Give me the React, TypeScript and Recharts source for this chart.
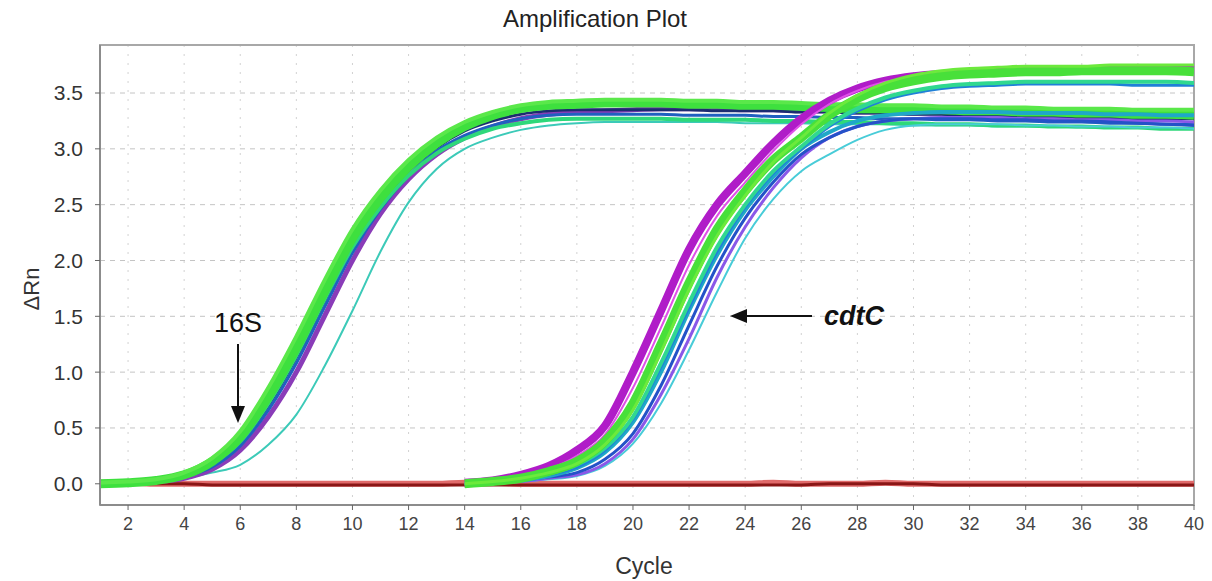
import React from "react";
import {
    LineChart,
    Line,
    XAxis,
    YAxis,
    CartesianGrid,
    ReferenceArea,
} from "recharts";

// cycles on the x axis
const cycles = [1, 2, 3, 4, 5, 6, 7, 8, 9, 10, 11, 12, 13, 14, 15, 16, 17, 18, 19, 20,
    21, 22, 23, 24, 25, 26, 27, 28, 29, 30, 31, 32, 33, 34, 35, 36, 37, 38, 39, 40];
const xTicks = [2, 4, 6, 8, 10, 12, 14, 16, 18, 20, 22, 24, 26, 28, 30, 32, 34, 36, 38, 40];
const yTicks = [0, 0.5, 1, 1.5, 2, 2.5, 3, 3.5];

// no template control (flat baseline)
const ntc = [0, 0, 0, 0, -0.01, -0.01, -0.01, -0.01, -0.01, -0.01, -0.01, -0.01, -0.01, -0.01, -0.01, -0.01, -0.01, -0.01, -0.01, -0.01,
    -0.01, -0.01, -0.01, -0.01, -0.01, -0.01, 0, 0, 0, 0, -0.01, -0.01, -0.01, -0.01, -0.01, -0.01, -0.01, -0.01, -0.01, -0.01];
const ntc2 = [0.01, 0.01, 0, 0, 0, 0, 0, 0, 0, 0, 0, 0, 0, 0.01, 0.01, 0, 0, 0, 0, 0,
    0, 0, 0, 0, 0.01, 0, 0, 0, 0.01, 0, 0, 0, 0, 0, 0, 0, 0, 0, 0, 0];

// 16S wells
const s16Green = [0.00, 0.01, 0.03, 0.08, 0.20, 0.42, 0.78, 1.22, 1.72, 2.20, 2.56, 2.84, 3.05, 3.20, 3.30, 3.36, 3.39, 3.40, 3.41, 3.41,
    3.41, 3.40, 3.40, 3.39, 3.39, 3.38, 3.37, 3.36, 3.36, 3.35, 3.35, 3.34, 3.34, 3.33, 3.33, 3.32, 3.32, 3.31, 3.31, 3.30];
const s16Lime = [0.01, 0.02, 0.04, 0.10, 0.23, 0.47, 0.86, 1.32, 1.82, 2.28, 2.63, 2.90, 3.10, 3.24, 3.33, 3.39, 3.42, 3.43, 3.44, 3.44,
    3.44, 3.43, 3.43, 3.42, 3.42, 3.41, 3.40, 3.40, 3.39, 3.39, 3.38, 3.38, 3.37, 3.37, 3.36, 3.36, 3.36, 3.35, 3.35, 3.35];
const s16Mint = [0.00, 0.01, 0.03, 0.07, 0.18, 0.38, 0.72, 1.15, 1.65, 2.12, 2.48, 2.76, 2.96, 3.09, 3.18, 3.23, 3.26, 3.27, 3.27, 3.27,
    3.27, 3.26, 3.26, 3.26, 3.25, 3.25, 3.24, 3.24, 3.23, 3.23, 3.22, 3.22, 3.21, 3.21, 3.20, 3.20, 3.19, 3.19, 3.18, 3.18];
const s16Blue = [0.00, 0.01, 0.02, 0.06, 0.15, 0.34, 0.66, 1.08, 1.58, 2.07, 2.46, 2.76, 2.98, 3.12, 3.21, 3.27, 3.30, 3.31, 3.31, 3.31,
    3.31, 3.30, 3.30, 3.30, 3.29, 3.29, 3.28, 3.28, 3.27, 3.27, 3.26, 3.26, 3.25, 3.25, 3.24, 3.24, 3.23, 3.23, 3.22, 3.22];
const s16Navy = [0.00, 0.01, 0.02, 0.07, 0.17, 0.37, 0.70, 1.13, 1.63, 2.12, 2.50, 2.80, 3.01, 3.16, 3.25, 3.31, 3.34, 3.35, 3.35, 3.35,
    3.35, 3.35, 3.34, 3.34, 3.34, 3.33, 3.33, 3.32, 3.32, 3.31, 3.31, 3.30, 3.30, 3.29, 3.29, 3.28, 3.28, 3.27, 3.27, 3.27];
const s16Purple = [0.00, 0.01, 0.02, 0.05, 0.13, 0.30, 0.60, 1.00, 1.50, 2.00, 2.42, 2.73, 2.95, 3.10, 3.20, 3.27, 3.31, 3.33, 3.34, 3.35,
    3.36, 3.36, 3.36, 3.35, 3.35, 3.34, 3.34, 3.33, 3.33, 3.32, 3.32, 3.31, 3.31, 3.30, 3.30, 3.29, 3.29, 3.28, 3.28, 3.28];
const s16Teal = [0.00, 0.01, 0.02, 0.05, 0.10, 0.17, 0.35, 0.62, 1.05, 1.55, 2.08, 2.52, 2.82, 3.00, 3.10, 3.17, 3.21, 3.23, 3.24, 3.24,
    3.24, 3.24, 3.24, 3.23, 3.23, 3.23, 3.22, 3.22, 3.22, 3.21, 3.21, 3.21, 3.20, 3.20, 3.20, 3.19, 3.19, 3.19, 3.18, 3.18];

// cdtC wells (nothing read before cycle 14)
const pre = [null, null, null, null, null, null, null, null, null, null, null, null, null];
const cdtMagenta = [...pre, 0.01, 0.03, 0.08, 0.16, 0.30, 0.52, 1.00, 1.55, 2.10, 2.50, 2.78, 3.05, 3.27, 3.43, 3.54, 3.61, 3.65,
    3.67, 3.68, 3.69, 3.70, 3.70, 3.70, 3.71, 3.71, 3.71, 3.71];
const cdtPink = [...pre, 0.01, 0.02, 0.06, 0.13, 0.25, 0.44, 0.86, 1.40, 1.96, 2.40, 2.70, 2.98, 3.22, 3.40, 3.52, 3.60, 3.64,
    3.66, 3.67, 3.68, 3.69, 3.69, 3.70, 3.70, 3.70, 3.70, 3.70];
const cdtGreen = [...pre, 0.00, 0.02, 0.05, 0.11, 0.20, 0.38, 0.72, 1.25, 1.80, 2.28, 2.62, 2.90, 3.10, 3.30, 3.45, 3.55, 3.61,
    3.65, 3.67, 3.68, 3.69, 3.69, 3.70, 3.70, 3.70, 3.70, 3.69];
const cdtLime = [...pre, 0.00, 0.02, 0.05, 0.10, 0.18, 0.35, 0.66, 1.18, 1.74, 2.22, 2.58, 2.88, 3.10, 3.32, 3.48, 3.59, 3.66,
    3.70, 3.72, 3.73, 3.74, 3.74, 3.74, 3.75, 3.75, 3.75, 3.75];
const cdtSpring = [...pre, 0.00, 0.01, 0.04, 0.09, 0.17, 0.32, 0.60, 1.08, 1.62, 2.12, 2.50, 2.80, 3.02, 3.22, 3.36, 3.46, 3.52,
    3.56, 3.58, 3.59, 3.60, 3.60, 3.60, 3.60, 3.60, 3.60, 3.59];
const cdtAzure = [...pre, 0.00, 0.01, 0.03, 0.08, 0.15, 0.30, 0.58, 1.05, 1.58, 2.08, 2.48, 2.78, 3.00, 3.20, 3.34, 3.44, 3.50,
    3.54, 3.56, 3.57, 3.58, 3.58, 3.58, 3.58, 3.57, 3.57, 3.57];
const cdtTeal = [...pre, 0.00, 0.01, 0.03, 0.07, 0.14, 0.28, 0.55, 1.00, 1.55, 2.05, 2.45, 2.75, 3.00, 3.15, 3.25, 3.30, 3.32,
    3.33, 3.33, 3.33, 3.32, 3.32, 3.32, 3.31, 3.31, 3.30, 3.30];
const cdtBlue = [...pre, 0.00, 0.01, 0.03, 0.06, 0.10, 0.22, 0.45, 0.88, 1.42, 1.95, 2.38, 2.70, 2.95, 3.10, 3.20, 3.25, 3.27,
    3.27, 3.27, 3.26, 3.26, 3.25, 3.25, 3.24, 3.23, 3.22, 3.21];
const cdtViolet = [...pre, 0.00, 0.01, 0.02, 0.05, 0.08, 0.18, 0.40, 0.80, 1.30, 1.85, 2.30, 2.65, 2.92, 3.10, 3.20, 3.25, 3.27,
    3.28, 3.28, 3.28, 3.27, 3.27, 3.26, 3.26, 3.25, 3.25, 3.24];
const cdtCyan = [...pre, 0.00, 0.01, 0.02, 0.04, 0.07, 0.16, 0.36, 0.72, 1.20, 1.72, 2.20, 2.55, 2.80, 2.95, 3.08, 3.17, 3.21,
    3.22, 3.22, 3.22, 3.21, 3.21, 3.20, 3.20, 3.19, 3.19, 3.18];

// draw order: first in list is drawn underneath
const series = [
    { key: "ntc2", values: ntc2, color: "#e06a6a", width: 6 },
    { key: "ntc", values: ntc, color: "#8a1616", width: 3 },
    { key: "s16Teal", values: s16Teal, color: "#3ccab8", width: 2 },
    { key: "s16Purple", values: s16Purple, color: "#8a3cb8", width: 5 },
    { key: "s16Navy", values: s16Navy, color: "#1c2c70", width: 3 },
    { key: "s16Blue", values: s16Blue, color: "#2060c0", width: 3 },
    { key: "s16Mint", values: s16Mint, color: "#2ed87a", width: 4 },
    { key: "s16Green", values: s16Green, color: "#3ee03e", width: 9 },
    { key: "s16Lime", values: s16Lime, color: "#5ae84a", width: 4 },
    { key: "cdtCyan", values: cdtCyan, color: "#48ccd8", width: 2 },
    { key: "cdtViolet", values: cdtViolet, color: "#8a58e8", width: 3 },
    { key: "cdtBlue", values: cdtBlue, color: "#2452c8", width: 3 },
    { key: "cdtTeal", values: cdtTeal, color: "#1fa8c8", width: 4 },
    { key: "cdtAzure", values: cdtAzure, color: "#2080d8", width: 3 },
    { key: "cdtSpring", values: cdtSpring, color: "#30d890", width: 4 },
    { key: "cdtMagenta", values: cdtMagenta, color: "#b01cc8", width: 8 },
    { key: "cdtPink", values: cdtPink, color: "#e050e8", width: 2 },
    { key: "cdtGreen", values: cdtGreen, color: "#48e03a", width: 9 },
    { key: "cdtLime", values: cdtLime, color: "#6cea3c", width: 3 },
];

const data = cycles.map((c, i) => {
    const row: any = { cycle: c };
    series.forEach((s) => {
        row[s.key] = s.values[i];
    });
    return row;
});

const font = "'Liberation Sans', Arial, sans-serif";

export default function App() {
    return (
        <div style={{ position: "absolute", left: 0, top: 0, width: 1212, height: 581, background: "#fff" }}>
            <LineChart
                width={1212}
                height={581}
                data={data}
                margin={{ top: 45, right: 18, bottom: 46, left: 40 }}
            >
                <CartesianGrid vertical={false} stroke="#c4c4c4" strokeDasharray="5 5" />
                <CartesianGrid horizontal={false} stroke="#d2d2d2" strokeDasharray="2 7" />
                <XAxis
                    dataKey="cycle"
                    type="number"
                    domain={[1, 40]}
                    ticks={xTicks}
                    allowDataOverflow
                    height={30}
                    axisLine={{ stroke: "#8c8c8c", strokeWidth: 2 }}
                    tickLine={{ stroke: "#666" }}
                    tickSize={5}
                    tickMargin={7}
                    tick={{ fill: "#444", fontSize: 18, fontFamily: font }}
                />
                <YAxis
                    type="number"
                    domain={[-0.19, 3.93]}
                    ticks={yTicks}
                    allowDataOverflow
                    width={60}
                    axisLine={{ stroke: "#8c8c8c", strokeWidth: 2 }}
                    tickLine={{ stroke: "#666" }}
                    tickSize={5}
                    tickMargin={12}
                    tickFormatter={(v: number) => v.toFixed(1)}
                    tick={{ fill: "#333", fontSize: 21, fontFamily: font }}
                />
                <ReferenceArea x1={1} x2={40} y1={-0.19} y2={3.93} fill="none" stroke="#a8a8a8" strokeWidth={2} />
                {series.map((s) => (
                    <Line
                        key={s.key}
                        dataKey={s.key}
                        type="monotone"
                        stroke={s.color}
                        strokeWidth={s.width}
                        dot={false}
                        activeDot={false}
                        connectNulls={false}
                        isAnimationActive={false}
                    />
                ))}
            </LineChart>

            <svg
                width={1212}
                height={581}
                style={{ position: "absolute", left: 0, top: 0, pointerEvents: "none" }}
            >
                <text x={595} y={27} textAnchor="middle" fontFamily={font} fontSize={24} fill="#222">
                    Amplification Plot
                </text>
                <text x={644} y={574} textAnchor="middle" fontFamily={font} fontSize={23} fill="#333">
                    Cycle
                </text>
                <text
                    x={0}
                    y={0}
                    transform="translate(39 289) rotate(-90)"
                    textAnchor="middle"
                    fontFamily={font}
                    fontSize={22}
                    fill="#333"
                >
                    ΔRn
                </text>

                {/* 16S label and arrow */}
                <text x={238} y={332} textAnchor="middle" fontFamily={font} fontSize={27} fill="#111">
                    16S
                </text>
                <line x1={238} y1={344} x2={238} y2={410} stroke="#111" strokeWidth={2} />
                <polygon points="231,406 245,406 238,423" fill="#111" />

                {/* cdtC label and arrow */}
                <text x={854} y={325} textAnchor="middle" fontFamily={font} fontSize={27} fontWeight="bold" fontStyle="italic" fill="#111">
                    cdtC
                </text>
                <line x1={812} y1={316} x2={744} y2={316} stroke="#111" strokeWidth={2} />
                <polygon points="730,316 747,309 747,323" fill="#111" />
            </svg>
        </div>
    );
}
